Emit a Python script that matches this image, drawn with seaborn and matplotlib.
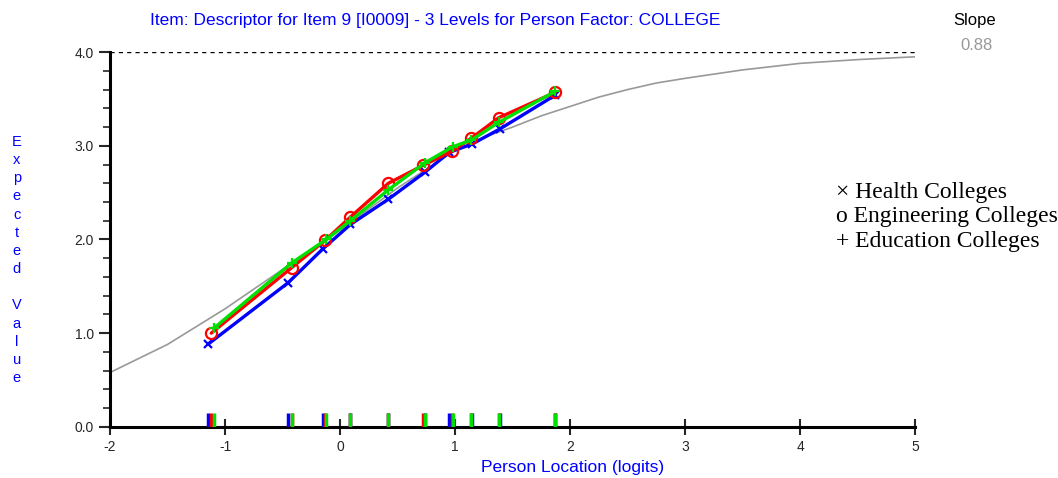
import numpy as np
import pandas as pd
import matplotlib
matplotlib.use('Agg')
import matplotlib.pyplot as plt
import seaborn as sns
from matplotlib.ticker import MultipleLocator

# class interval means (logits) and observed means per group
health_x = [-1.15, -0.45, -0.15, 0.09, 0.42, 0.74, 0.95, 1.15, 1.39, 1.87]
health_y = [0.88, 1.54, 1.90, 2.16, 2.43, 2.72, 2.93, 3.02, 3.18, 3.54]
eng_x = [-1.12, -0.42, -0.13, 0.09, 0.42, 0.72, 0.97, 1.14, 1.38, 1.87]
eng_y = [1.00, 1.70, 1.99, 2.24, 2.60, 2.79, 2.94, 3.08, 3.30, 3.57]
edu_x = [-1.10, -0.42, -0.12, 0.09, 0.42, 0.74, 0.98, 1.14, 1.38, 1.87]
edu_y = [1.05, 1.75, 2.00, 2.20, 2.53, 2.82, 2.99, 3.06, 3.25, 3.58]

# expected value curve
curve_x = [-2.0, -1.5, -1.0, -0.5, 0.0, 0.5, 1.0, 1.25, 1.5, 1.75, 2.0, 2.25, 2.5, 2.75,
           3.0, 3.5, 4.0, 4.5, 5.0]
curve_y = [0.58, 0.88, 1.26, 1.68, 2.10, 2.55, 2.95, 3.09, 3.20, 3.32, 3.42, 3.52, 3.60, 3.67,
           3.72, 3.81, 3.88, 3.92, 3.95]

groups = ['Health Colleges', 'Engineering Colleges', 'Education Colleges']
slope = 0.88

sns.set_style('white')
plt.rcParams['font.family'] = ['Liberation Sans', 'DejaVu Sans']
plt.rcParams['axes.unicode_minus'] = False

fig = plt.figure(figsize=(10.58, 4.78), dpi=100)
ax = fig.add_axes([0.104, 0.107, 0.761, 0.784])

curve = pd.DataFrame({'x': curve_x, 'y': curve_y})
sns.lineplot(data=curve, x='x', y='y', color='#999999', lw=1.2, ax=ax, sort=False)
ax.axhline(4.0, color='black', ls=(0, (3, 3)), lw=1)

series = [
    (health_x, health_y, 'blue', 'x', 6),
    (eng_x, eng_y, 'red', 'o', 8),
    (edu_x, edu_y, '#00e000', '+', 7),
]
for xs, ys, col, mk, ms in series:
    d = pd.DataFrame({'x': xs, 'y': ys})
    sns.lineplot(data=d, x='x', y='y', color=col, lw=2.4, marker=mk, ms=ms,
                 mfc='none', mec=col, mew=1.6, ax=ax, sort=False)
for xs, ys, col, mk, ms in series:
    ax.vlines(xs, 0, 0.15, colors=col, lw=2.5, zorder=5)

ax.set_xlim(-2, 5)
ax.set_ylim(0, 4)
ax.set_xticks(range(-2, 6))
ax.set_yticks([0, 1, 2, 3, 4])
ax.set_yticklabels(['0.0', '1.0', '2.0', '3.0', '4.0'])
ax.yaxis.set_minor_locator(MultipleLocator(0.2))
ax.tick_params(axis='y', which='major', direction='out', length=8, width=1.5, left=True, labelsize=10)
ax.tick_params(axis='y', which='minor', direction='out', length=5, width=1.2, left=True)
ax.tick_params(axis='x', which='major', direction='inout', length=12, width=1.5, bottom=True, labelsize=10)
ax.set_xlabel('')
ax.set_ylabel('')
for s in ['top', 'right']:
    ax.spines[s].set_visible(False)
for s in ['left', 'bottom']:
    ax.spines[s].set_linewidth(2.2)
    ax.spines[s].set_color('black')

fig.text(0.411, 0.958, 'Item: Descriptor for Item 9 [I0009] - 3 Levels for Person Factor: COLLEGE',
         color='blue', fontsize=12.5, ha='center', va='center')
fig.text(0.541, 0.023, 'Person Location (logits)', color='blue', fontsize=12.5,
         ha='center', va='center')
fig.text(0.016, 0.456, '\n'.join('Expected Value'), color='blue', fontsize=10.5,
         ha='center', va='center', linespacing=1.38)
fig.text(0.921, 0.958, 'Slope', color='black', fontsize=12, ha='center', va='center')
fig.text(0.923, 0.905, f'{slope:.2f}', color='#999999', fontsize=12, ha='center', va='center')

marks = ['×', 'o', '+']
ys = [0.598, 0.548, 0.494]
for m, g, yy in zip(marks, groups, ys):
    fig.text(0.790, yy, f'{m} {g}', fontsize=17, family='Liberation Serif',
             ha='left', va='center', color='black')

fig.savefig('out.png', dpi=100)
